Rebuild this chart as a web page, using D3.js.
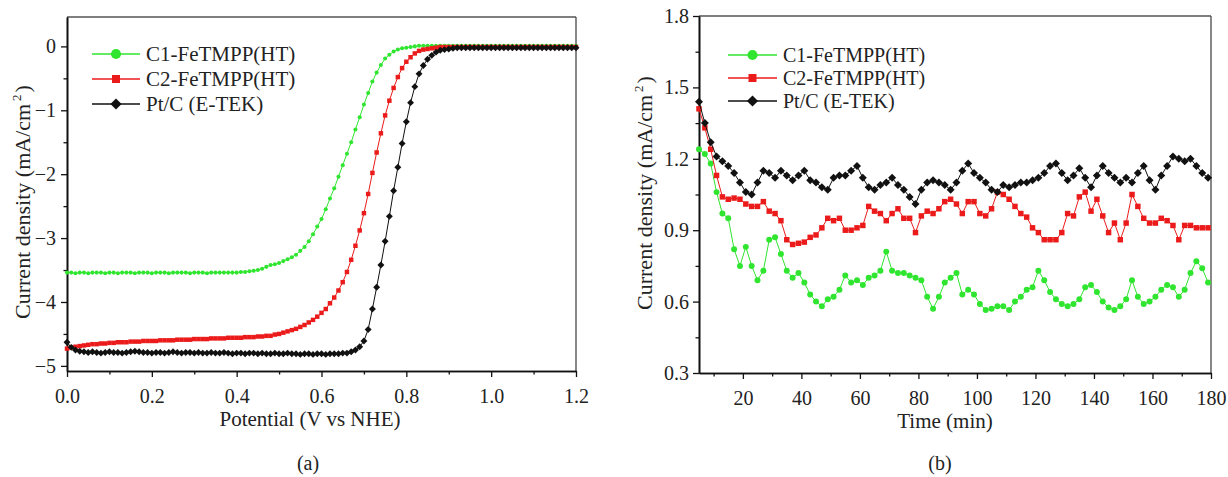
<!DOCTYPE html>
<html><head><meta charset="utf-8">
<script src="https://cdn.jsdelivr.net/npm/d3@7"></script>
<style>
body{margin:0;background:#fff}
svg{display:block;background:#fff}
svg text{font-family:"Liberation Serif","Times New Roman",Times,serif !important;fill:#222}
</style>
</head><body>
<svg id="c" width="1228" height="477"></svg>
<script>
// ---------- DATA ----------
const seriesNames = ["C1-FeTMPP(HT)", "C2-FeTMPP(HT)", "Pt/C (E-TEK)"];

// panel (a): potential (V vs NHE)
const potential = [
0.00,0.01,0.02,0.03,0.04,0.05,0.06,0.07,0.08,0.09,
0.10,0.11,0.12,0.13,0.14,0.15,0.16,0.17,0.18,0.19,
0.20,0.21,0.22,0.23,0.24,0.25,0.26,0.27,0.28,0.29,
0.30,0.31,0.32,0.33,0.34,0.35,0.36,0.37,0.38,0.39,
0.40,0.41,0.42,0.43,0.44,0.45,0.46,0.47,0.48,0.49,
0.50,0.51,0.52,0.53,0.54,0.55,0.56,0.57,0.58,0.59,
0.60,0.61,0.62,0.63,0.64,0.65,0.66,0.67,0.68,0.69,
0.70,0.71,0.72,0.73,0.74,0.75,0.76,0.77,0.78,0.79,
0.80,0.81,0.82,0.83,0.84,0.85,0.86,0.87,0.88,0.89,
0.90,0.91,0.92,0.93,0.94,0.95,0.96,0.97,0.98,0.99,
1.00,1.01,1.02,1.03,1.04,1.05,1.06,1.07,1.08,1.09,
1.10,1.11,1.12,1.13,1.14,1.15,1.16,1.17,1.18,1.19,
1.20];
const c1LSV = [
-3.54,-3.54,-3.55,-3.54,-3.54,-3.55,-3.54,-3.54,-3.54,-3.55,
-3.54,-3.54,-3.55,-3.54,-3.54,-3.54,-3.55,-3.54,-3.54,-3.54,
-3.55,-3.54,-3.54,-3.54,-3.55,-3.54,-3.54,-3.54,-3.54,-3.55,
-3.54,-3.54,-3.54,-3.55,-3.54,-3.54,-3.54,-3.54,-3.54,-3.54,
-3.54,-3.53,-3.53,-3.52,-3.51,-3.50,-3.48,-3.45,-3.42,-3.41,
-3.39,-3.36,-3.33,-3.30,-3.26,-3.20,-3.14,-3.05,-2.94,-2.82,
-2.70,-2.55,-2.38,-2.22,-2.04,-1.86,-1.68,-1.50,-1.30,-1.11,
-0.91,-0.73,-0.55,-0.41,-0.29,-0.19,-0.13,-0.08,-0.05,-0.03,
-0.02,-0.01,0.00,0.01,0.01,0.01,0.01,0.01,0.01,0.01,
0.01,0.01,0.01,0.01,0.01,0.01,0.01,0.01,0.01,0.01,
0.01,0.01,0.01,0.01,0.01,0.01,0.01,0.01,0.01,0.01,
0.01,0.01,0.01,0.01,0.01,0.01,0.01,0.01,0.01,0.01,
0.01];
const c2LSV = [
-4.73,-4.71,-4.70,-4.69,-4.68,-4.67,-4.66,-4.66,-4.65,-4.65,
-4.64,-4.64,-4.63,-4.63,-4.63,-4.62,-4.62,-4.62,-4.61,-4.61,
-4.61,-4.61,-4.60,-4.60,-4.60,-4.60,-4.59,-4.59,-4.59,-4.59,
-4.58,-4.58,-4.58,-4.58,-4.57,-4.57,-4.57,-4.57,-4.56,-4.56,
-4.56,-4.56,-4.55,-4.55,-4.55,-4.54,-4.54,-4.53,-4.53,-4.51,
-4.50,-4.48,-4.46,-4.44,-4.42,-4.39,-4.36,-4.32,-4.28,-4.23,
-4.17,-4.11,-4.02,-3.93,-3.82,-3.69,-3.53,-3.34,-3.12,-2.88,
-2.61,-2.31,-1.98,-1.66,-1.36,-1.08,-0.85,-0.65,-0.48,-0.34,
-0.24,-0.17,-0.11,-0.07,-0.05,-0.04,-0.03,-0.02,-0.01,-0.01,
-0.01,-0.01,-0.01,-0.01,-0.01,-0.01,-0.01,-0.01,-0.01,-0.01,
-0.01,-0.01,-0.01,-0.01,-0.01,-0.01,-0.01,-0.01,-0.01,-0.01,
-0.01,-0.01,-0.01,-0.01,-0.01,-0.01,-0.01,-0.01,-0.01,-0.01,
-0.01];
const ptLSV = [
-4.63,-4.71,-4.75,-4.77,-4.78,-4.79,-4.78,-4.79,-4.80,-4.79,
-4.78,-4.79,-4.79,-4.80,-4.79,-4.78,-4.77,-4.78,-4.79,-4.79,
-4.80,-4.79,-4.79,-4.80,-4.79,-4.78,-4.79,-4.80,-4.79,-4.79,
-4.80,-4.79,-4.80,-4.80,-4.79,-4.80,-4.80,-4.79,-4.80,-4.81,
-4.80,-4.80,-4.81,-4.80,-4.80,-4.81,-4.80,-4.81,-4.81,-4.80,
-4.81,-4.81,-4.80,-4.81,-4.81,-4.82,-4.81,-4.81,-4.82,-4.81,
-4.81,-4.82,-4.81,-4.81,-4.81,-4.80,-4.80,-4.78,-4.75,-4.70,
-4.61,-4.43,-4.11,-3.77,-3.42,-3.05,-2.66,-2.26,-1.89,-1.52,
-1.18,-0.88,-0.63,-0.43,-0.30,-0.20,-0.14,-0.09,-0.06,-0.05,
-0.04,-0.03,-0.02,-0.02,-0.02,-0.02,-0.02,-0.02,-0.02,-0.02,
-0.02,-0.02,-0.02,-0.02,-0.02,-0.02,-0.02,-0.02,-0.02,-0.02,
-0.02,-0.02,-0.02,-0.02,-0.02,-0.02,-0.02,-0.02,-0.02,-0.02,
-0.02];

// panel (b): time (min)
const time = [
5,7,9,11,13,15,17,19,21,23,
25,27,29,31,33,35,37,39,41,43,
45,47,49,51,53,55,57,59,61,63,
65,67,69,71,73,75,77,79,81,83,
85,87,89,91,93,95,97,99,101,103,
105,107,109,111,113,115,117,119,121,123,
125,127,129,131,133,135,137,139,141,143,
145,147,149,151,153,155,157,159,161,163,
165,167,169,171,173,175,177,179];
const c1Stab = [
1.24,1.22,1.18,1.06,0.97,0.95,0.82,0.75,0.83,0.75,
0.69,0.73,0.86,0.87,0.80,0.73,0.70,0.72,0.68,0.63,
0.60,0.58,0.61,0.62,0.65,0.71,0.68,0.69,0.67,0.70,
0.71,0.73,0.81,0.73,0.72,0.72,0.71,0.70,0.69,0.62,
0.57,0.62,0.68,0.70,0.72,0.63,0.65,0.63,0.59,0.565,
0.57,0.58,0.58,0.565,0.60,0.62,0.65,0.66,0.73,0.69,
0.64,0.61,0.59,0.58,0.59,0.61,0.66,0.67,0.64,0.60,
0.575,0.565,0.58,0.61,0.69,0.62,0.59,0.60,0.62,0.65,
0.67,0.66,0.62,0.65,0.72,0.77,0.74,0.68];
const c2Stab = [
1.41,1.33,1.24,1.13,1.04,1.03,1.035,1.03,1.01,1.00,
1.00,1.02,0.98,0.97,0.94,0.86,0.84,0.845,0.85,0.87,
0.88,0.91,0.95,0.94,0.95,0.90,0.90,0.91,0.92,1.00,
0.98,0.97,0.94,0.97,0.99,0.95,0.95,0.89,0.96,0.98,
0.97,0.99,1.02,1.03,1.01,0.97,1.02,1.02,0.97,0.96,
0.99,1.06,1.05,1.03,1.00,0.97,0.955,0.91,0.89,0.86,
0.86,0.86,0.89,0.97,0.96,1.04,1.06,0.98,1.03,0.96,
0.89,0.93,0.86,0.93,1.05,1.00,0.95,0.93,0.93,0.95,
0.94,0.92,0.86,0.92,0.92,0.91,0.91,0.91];
const ptStab = [
1.44,1.35,1.27,1.21,1.19,1.17,1.14,1.10,1.06,1.05,
1.10,1.15,1.14,1.12,1.15,1.13,1.11,1.13,1.15,1.11,
1.10,1.08,1.07,1.12,1.13,1.13,1.15,1.17,1.12,1.08,
1.07,1.09,1.10,1.12,1.09,1.07,1.04,1.01,1.07,1.10,
1.11,1.10,1.09,1.07,1.10,1.15,1.18,1.14,1.12,1.10,
1.07,1.06,1.09,1.08,1.09,1.10,1.10,1.11,1.12,1.14,
1.17,1.18,1.14,1.11,1.13,1.16,1.12,1.08,1.13,1.17,
1.14,1.12,1.10,1.12,1.10,1.14,1.17,1.11,1.07,1.13,
1.17,1.21,1.20,1.19,1.20,1.17,1.14,1.12];

// tick values
const xTicksA = [0.0, 0.2, 0.4, 0.6, 0.8, 1.0, 1.2];
const xMinorA = [0.1, 0.3, 0.5, 0.7, 0.9, 1.1];
const yTicksA = [0, -1, -2, -3, -4, -5];
const yMinorA = [-0.5, -1.5, -2.5, -3.5, -4.5];
const xTicksB = [20, 40, 60, 80, 100, 120, 140, 160, 180];
const xMinorB = [10, 30, 50, 70, 90, 110, 130, 150, 170];
const yTicksB = [0.3, 0.6, 0.9, 1.2, 1.5, 1.8];
const yMinorB = [0.45, 0.75, 1.05, 1.35, 1.65];

// ---------- DRAW ----------
const FONT = '"Liberation Serif","Times New Roman",Times,serif';
const svg = d3.select("#c");
const colors = ["#2fe52f", "#ec1b1b", "#111111"];

function sym(i, size) {
  return d3.symbol().type(i === 0 ? d3.symbolCircle : d3.symbolSquare).size(size)();
}

function panel(o) {
  const g = svg.append("g");
  const x = d3.scaleLinear().domain(o.xDomain).range([o.left, o.right]);
  const y = d3.scaleLinear().domain(o.yDomain).range([o.bottom, o.top]);

  // frame top / right
  g.append("line").attr("x1", o.left).attr("x2", o.right).attr("y1", o.top).attr("y2", o.top)
    .attr("stroke", "#555").attr("stroke-width", 1.4);
  g.append("line").attr("x1", o.right).attr("x2", o.right).attr("y1", o.top).attr("y2", o.bottom)
    .attr("stroke", "#555").attr("stroke-width", 1.4);

  // axes
  const bx = g.append("g").attr("transform", `translate(0,${o.bottom})`);
  bx.append("g").call(d3.axisBottom(x).tickValues(o.xMinor).tickSize(3.5).tickSizeOuter(0).tickFormat(""));
  bx.append("g").call(d3.axisBottom(x).tickValues(o.xTicks).tickSize(6).tickSizeOuter(0)
      .tickPadding(11.5).tickFormat(o.xFmt));
  const ly = g.append("g").attr("transform", `translate(${o.left},0)`);
  ly.append("g").call(d3.axisLeft(y).tickValues(o.yMinor).tickSize(3.5).tickSizeOuter(0).tickFormat(""));
  ly.append("g").call(d3.axisLeft(y).tickValues(o.yTicks).tickSize(6).tickSizeOuter(0)
      .tickPadding(o.yPad).tickFormat(o.yFmt));
  g.selectAll(".domain").attr("stroke", "#111").attr("stroke-width", 1.6);
  g.selectAll(".tick line").attr("stroke", "#111").attr("stroke-width", 1.3);
  bx.attr("font-family", FONT);
  ly.attr("font-family", FONT);
  g.selectAll(".tick text").attr("font-size", 20).style("font-family", FONT).attr("fill", "#222");

  // series
  o.series.forEach((vals, i) => {
    const pts = o.xs.map((xv, j) => [xv, vals[j]]).filter(d => d[1] != null);
    g.append("path").datum(pts)
      .attr("d", d3.line().x(d => x(d[0])).y(d => y(d[1])))
      .attr("fill", "none").attr("stroke", colors[i]).attr("stroke-width", 1);
    g.append("g").selectAll("path").data(pts).join("path")
      .attr("d", sym(i, o.msize[i]))
      .attr("transform", d => `translate(${x(d[0])},${y(d[1])})` + (i === 2 ? " rotate(45)" : ""))
      .attr("fill", colors[i]);
  });

  // legend
  seriesNames.forEach((name, i) => {
    const ry = o.legRows[i];
    g.append("line").attr("x1", o.legX[0]).attr("x2", o.legX[1]).attr("y1", ry).attr("y2", ry)
      .attr("stroke", colors[i]).attr("stroke-width", 1.6);
    g.append("path").attr("d", sym(i, [80, 64, 62][i]))
      .attr("transform", `translate(${(o.legX[0] + o.legX[1]) / 2},${ry})` + (i === 2 ? " rotate(45)" : ""))
      .attr("fill", colors[i]);
    g.append("text").attr("x", o.legX[2]).attr("y", ry).attr("dy", "0.34em")
      .style("font-family", FONT).attr("font-size", o.legFont).text(name);
  });

  // axis titles
  g.append("text").attr("x", o.xTitle[0]).attr("y", o.xTitle[1]).attr("text-anchor", "middle")
    .style("font-family", FONT).attr("font-size", 21).text(o.xLabel);
  const yt = g.append("text").attr("transform", `translate(${o.yTitle[0]},${o.yTitle[1]}) rotate(-90)`)
    .attr("text-anchor", "middle").style("font-family", FONT).attr("font-size", 22);
  yt.append("tspan").text("Current density (mA/cm");
  yt.append("tspan").attr("font-size", 13).attr("dy", -9).attr("dx", 3).text("2");
  yt.append("tspan").attr("dy", 9).attr("dx", 2).text(")");

  // panel letter
  g.append("text").attr("x", o.letter[0]).attr("y", o.letter[1]).attr("text-anchor", "middle")
    .style("font-family", FONT).attr("font-size", 20).text(o.letterText);
}

panel({
  left: 67, right: 576, top: 17, bottom: 371,
  xDomain: [0, 1.2], yDomain: [-5.08, 0.46],
  xTicks: xTicksA, xMinor: xMinorA, yTicks: yTicksA, yMinor: yMinorA,
  xFmt: d3.format(".1f"), yFmt: d3.format("d"), yPad: 5,
  xs: potential, series: [c1LSV, c2LSV, ptLSV], msize: [13, 20, 24],
  legX: [92, 140, 146], legRows: [54, 79, 104], legFont: 21,
  xLabel: "Potential (V vs NHE)", xTitle: [310, 426], yTitle: [30, 202],
  letter: [308, 470], letterText: "(a)"
});

panel({
  left: 699, right: 1211, top: 16, bottom: 373,
  xDomain: [5, 180], yDomain: [0.3, 1.8],
  xTicks: xTicksB, xMinor: xMinorB, yTicks: yTicksB, yMinor: yMinorB,
  xFmt: d3.format("d"), yFmt: d3.format(".1f"), yPad: 4,
  xs: time, series: [c1Stab, c2Stab, ptStab], msize: [28, 30, 32],
  legX: [728, 777, 783], legRows: [55, 78, 101], legFont: 20,
  xLabel: "Time (min)", xTitle: [945, 428], yTitle: [652, 193],
  letter: [940, 470], letterText: "(b)"
});
</script>
</body></html>
